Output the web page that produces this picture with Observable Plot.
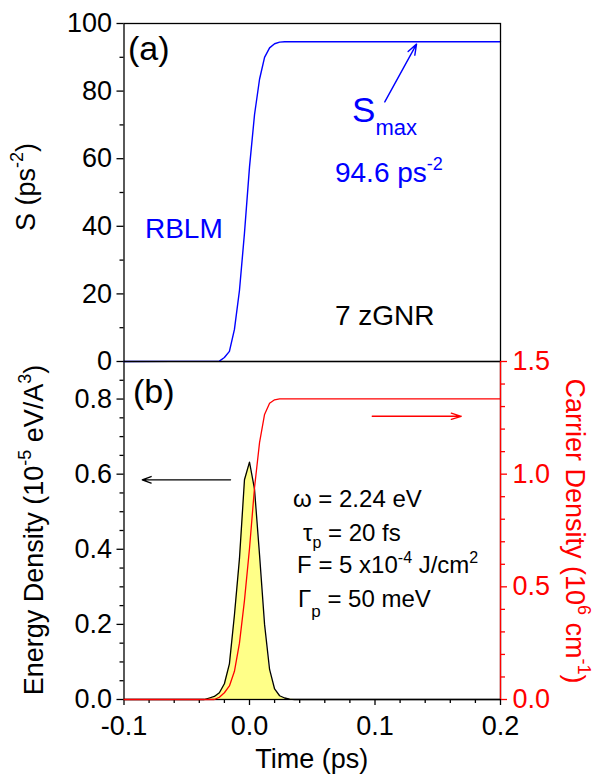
<!DOCTYPE html>
<html><head><meta charset="utf-8">
<script src="https://cdn.jsdelivr.net/npm/d3@7"></script>
<script src="https://cdn.jsdelivr.net/npm/@observablehq/plot@0.6"></script>
<style>
html,body{margin:0;padding:0;background:#fff;}
#chart{position:relative;width:597px;height:776px;background:#fff;}
#chart svg{position:absolute;left:0;top:0;}
</style></head><body><div id="chart"></div>
<script>
// ---------- data ----------
const xDomain = [-0.1, 0.2];
const xMajor = [-0.1, 0.0, 0.1, 0.2];
const xMinor = [-0.08, -0.06, -0.04, -0.02, 0.02, 0.04, 0.06, 0.08, 0.12, 0.14, 0.16, 0.18];

// panel (a): S (ps^-2)
const tS = [-0.1, -0.024, -0.020, -0.016, -0.012, -0.008, -0.004, 0.000, 0.004, 0.008, 0.012, 0.016, 0.020, 0.024, 0.028, 0.2];
const sVals = [0, 0.1, 1.2, 3.0, 9.5, 21, 38, 57.5, 73, 83.5, 90, 92.8, 94.0, 94.5, 94.6, 94.6];
const sMajor = [0, 20, 40, 60, 80, 100];
const sMinor = [10, 30, 50, 70, 90];

// panel (b): energy density (10^-5 eV/A^3)
const tE = [-0.1, -0.036, -0.032, -0.028, -0.024, -0.020, -0.016, -0.012, -0.008, -0.004, 0.000, 0.004, 0.008, 0.012, 0.016, 0.020, 0.024, 0.028, 0.032, 0.036, 0.2];
const eVals = [0, 0, 0.004, 0.008, 0.018, 0.042, 0.095, 0.225, 0.375, 0.585, 0.632, 0.56, 0.385, 0.2, 0.08, 0.028, 0.01, 0.004, 0.001, 0, 0];
const eMajor = [0.0, 0.2, 0.4, 0.6, 0.8];
const eMinor = [0.05, 0.1, 0.15, 0.25, 0.3, 0.35, 0.45, 0.5, 0.55, 0.65, 0.7, 0.75, 0.85];

// panel (b): carrier density (10^6 cm^-1), right axis
const tN = [-0.1, -0.028, -0.024, -0.020, -0.016, -0.012, -0.008, -0.004, 0.000, 0.004, 0.008, 0.012, 0.016, 0.020, 0.024, 0.2];
const nVals = [0, 0, 0.01, 0.03, 0.06, 0.125, 0.25, 0.44, 0.67, 0.94, 1.14, 1.265, 1.315, 1.33, 1.334, 1.334];
const nMajor = [0.0, 0.5, 1.0, 1.5];
const nMinor = [0.1, 0.2, 0.3, 0.4, 0.6, 0.7, 0.8, 0.9, 1.1, 1.2, 1.3, 1.4];

// annotation arrows (data units)
const smaxArrow = [{x1: 0.1078, y1: 76.8, x2: 0.1331, y2: 93.9}];
const energyArrow = [{x1: -0.0151, y1: 0.585, x2: -0.0855, y2: 0.585}];
const carrierArrow = [{x1: 0.0978, y1: 1.257, x2: 0.1687, y2: 1.257}];

// ---------- layout ----------
const W = 597, H = 776, ML = 123.5, MR = 97;
const FONT = "'Liberation Sans', Arial, sans-serif";
const baseStyle = {background: "transparent", fontFamily: FONT, fontSize: "27px", overflow: "visible"};
const fmt1 = d => d.toFixed(1);

const sData = tS.map((t, i) => ({t, v: sVals[i]}));
const eData = tE.map((t, i) => ({t, v: eVals[i]}));
const nData = tN.map((t, i) => ({t, v: nVals[i]}));

const topPlot = Plot.plot({
  width: W, height: H, marginLeft: ML, marginRight: MR, marginTop: 23, marginBottom: 415,
  style: baseStyle,
  x: {domain: xDomain, axis: null},
  y: {domain: [0, 100]},
  marks: [
    Plot.axisY({ticks: sMajor, tickSize: 7, tickPadding: 5, tickFormat: d => String(d), label: null, strokeWidth: 1.3}),
    Plot.axisY({ticks: sMinor, tickSize: 4, tickFormat: () => "", label: null, strokeWidth: 1.3}),
    Plot.line(sData, {x: "t", y: "v", stroke: "#0000ff", strokeWidth: 1.4}),
    Plot.arrow(smaxArrow, {x1: "x1", y1: "y1", x2: "x2", y2: "y2", stroke: "#0000ff", strokeWidth: 1.4, headLength: 12, headAngle: 40}),
    Plot.frame({stroke: "black", strokeWidth: 1.3})
  ]
});

const bottomPlot = Plot.plot({
  width: W, height: H, marginLeft: ML, marginRight: MR, marginTop: 361, marginBottom: 77,
  style: baseStyle,
  x: {domain: xDomain},
  y: {domain: [0, 0.9]},
  marks: [
    Plot.areaY(eData, {x: "t", y: "v", fill: "#ffff88"}),
    Plot.line(eData, {x: "t", y: "v", stroke: "black", strokeWidth: 1.3}),
    Plot.axisY({ticks: eMajor, tickSize: 7, tickPadding: 5, tickFormat: fmt1, label: null, strokeWidth: 1.3}),
    Plot.axisY({ticks: eMinor, tickSize: 4, tickFormat: () => "", label: null, strokeWidth: 1.3}),
    Plot.axisX({ticks: xMajor, tickSize: 6, tickPadding: 10, tickFormat: fmt1, label: null, strokeWidth: 1.3}),
    Plot.axisX({ticks: xMinor, tickSize: 4, tickFormat: () => "", label: null, strokeWidth: 1.3}),
    Plot.arrow(energyArrow, {x1: "x1", y1: "y1", x2: "x2", y2: "y2", stroke: "black", strokeWidth: 1.3, headLength: 11, headAngle: 40}),
    Plot.frame({stroke: "black", strokeWidth: 1.3})
  ]
});

const redPlot = Plot.plot({
  width: W, height: H, marginLeft: ML, marginRight: MR, marginTop: 361, marginBottom: 77,
  style: {...baseStyle, color: "#ff0000"},
  x: {domain: xDomain, axis: null},
  y: {domain: [0, 1.5]},
  marks: [
    Plot.line(nData, {x: "t", y: "v", stroke: "#ff0000", strokeWidth: 1.3}),
    Plot.ruleX([xDomain[1]], {stroke: "#ff0000", strokeWidth: 1.3}),
    Plot.axisY({anchor: "right", ticks: nMajor, tickSize: 6, tickPadding: 6, tickFormat: fmt1, label: null, strokeWidth: 1.3}),
    Plot.axisY({anchor: "right", ticks: nMinor, tickSize: 4, tickFormat: () => "", label: null, strokeWidth: 1.3}),
    Plot.arrow(carrierArrow, {x1: "x1", y1: "y1", x2: "x2", y2: "y2", stroke: "#ff0000", strokeWidth: 1.3, headLength: 12, headAngle: 35})
  ]
});

const chartDiv = document.getElementById("chart");
chartDiv.appendChild(bottomPlot);
chartDiv.appendChild(topPlot);
chartDiv.appendChild(redPlot);

// ---------- rich text annotations ----------
const NS = "http://www.w3.org/2000/svg";
function rich(svg, x, y, parts, opts = {}) {
  const t = document.createElementNS(NS, "text");
  t.setAttribute("x", x); t.setAttribute("y", y);
  t.setAttribute("fill", opts.fill || "black");
  t.setAttribute("text-anchor", opts.anchor || "start");
  t.setAttribute("font-family", FONT);
  if (opts.rotate) t.setAttribute("transform", `rotate(${opts.rotate} ${x} ${y})`);
  let cur = 0;
  for (const [s, size, shift = 0] of parts) {
    const sp = document.createElementNS(NS, "tspan");
    sp.setAttribute("font-size", size);
    if (shift !== cur) sp.setAttribute("dy", shift - cur);
    cur = shift;
    sp.textContent = s;
    t.appendChild(sp);
  }
  svg.appendChild(t);
}
const tx = v => topPlot.scale("x").apply(v);
const ty = v => topPlot.scale("y").apply(v);
const by = v => bottomPlot.scale("y").apply(v);

// panel (a)
rich(redPlot, tx(-0.0964), ty(89.1), [["(a)", 34]]);
rich(redPlot, tx(-0.0829), ty(36.4), [["RBLM", 28]], {fill: "#0000ff"});
rich(redPlot, tx(0.0821), ty(70.8), [["S", 35], ["max", 22, 13]], {fill: "#0000ff"});
rich(redPlot, tx(0.0685), ty(53.1), [["94.6 ps", 28], ["-2", 18, -12]], {fill: "#0000ff"});
rich(redPlot, tx(0.0685), ty(10.6), [["7 zGNR", 28]]);

// panel (b)
rich(redPlot, tx(-0.0924), by(0.788), [["(b)", 34]]);
rich(redPlot, tx(0.035), by(0.512), [["\u03c9 = 2.24 eV", 24]]);
rich(redPlot, tx(0.043), by(0.421), [["\u03c4", 24], ["p", 16, 7], [" = 20 fs", 24, 0]]);
rich(redPlot, tx(0.0383), by(0.3345), [["F = 5 x10", 24], ["-4", 16, -10], [" J/cm", 24, 0], ["2", 16, -10]]);
rich(redPlot, tx(0.0391), by(0.2456), [["\u0393", 24], ["p", 17, 10], [" = 50 meV", 24, 0]]);

// axis titles
rich(redPlot, 35, 187, [["S (ps", 27], ["-2", 18, -12], [")", 27, 0]], {anchor: "middle", rotate: -90});
rich(redPlot, 43, 530, [["Energy Density (10", 27], ["-5", 18, -12], [" eV/A", 27, 0], ["3", 18, -12], [")", 27, 0]], {anchor: "middle", rotate: -90});
rich(redPlot, 566, 531, [["Carrier Density (10", 27], ["6", 18, -12], [" cm", 27, 0], ["-1", 18, -12], [")", 27, 0]], {anchor: "middle", rotate: 90, fill: "#ff0000"});
rich(redPlot, 311.75, 768, [["Time (ps)", 27]], {anchor: "middle"});
</script></body></html>
